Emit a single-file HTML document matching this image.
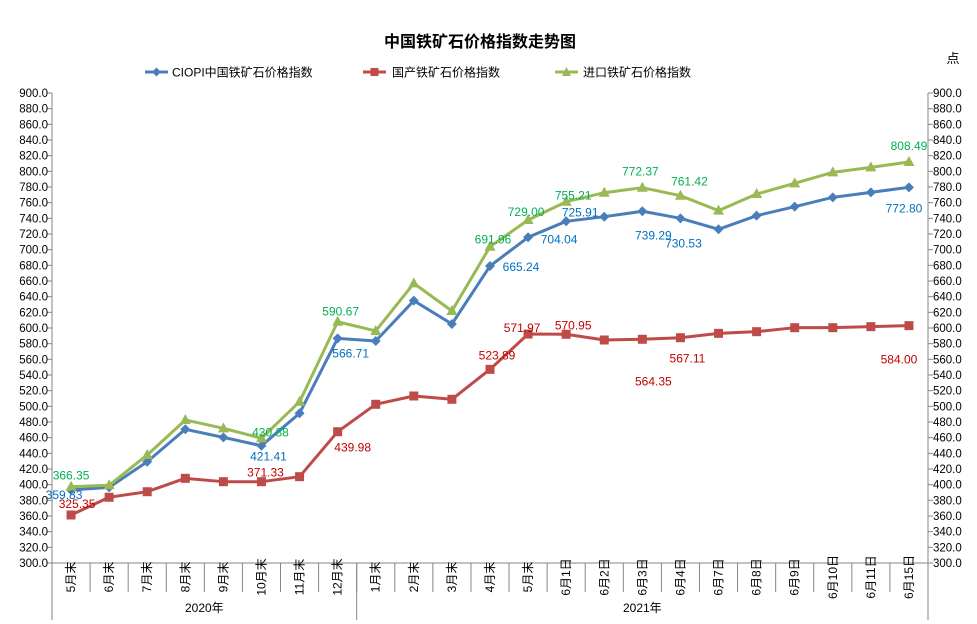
<!DOCTYPE html>
<html><head><meta charset="utf-8"><style>
body{margin:0;background:#fff;}
svg{display:block;font-family:"Liberation Sans","Noto Sans CJK SC",sans-serif;}
</style></head><body>
<svg id="chart" width="977" height="624" viewBox="0 0 977 624">
<text x="480" y="47" text-anchor="middle" font-size="16" font-weight="bold">中国铁矿石价格指数走势图</text>
<text x="953" y="63" text-anchor="middle" font-size="13">点</text>
<g>
<g><line x1="145" y1="72" x2="168" y2="72" stroke="#4a7ebb" stroke-width="3"/><path d="M156.5 67.5 L161 72 L156.5 76.5 L152 72Z" fill="#4a7ebb"/><text x="172" y="76.5" font-size="12">CIOPI中国铁矿石价格指数</text></g>
<g><line x1="363" y1="72" x2="386" y2="72" stroke="#be4b48" stroke-width="3"/><rect x="370.5" y="68" width="8" height="8" fill="#be4b48"/><text x="392" y="76.5" font-size="12">国产铁矿石价格指数</text></g>
<g><line x1="555" y1="72" x2="578" y2="72" stroke="#98b954" stroke-width="3"/><path d="M566.5 67 L571 76 L562 76Z" fill="#98b954"/><text x="583" y="76.5" font-size="12">进口铁矿石价格指数</text></g>
</g>
<g id="axes"></g><g id="series"></g><g id="labels"></g>
</svg>
<script>
const categories=["5月末","6月末","7月末","8月末","9月末","10月末","11月末","12月末","1月末","2月末","3月末","4月末","5月末","6月1日","6月2日","6月3日","6月4日","6月7日","6月8日","6月9日","6月10日","6月11日","6月15日"];
const yearLabels=["2020年","2021年"];
const yearCounts=[8,15];
const ciopi=[393.2,396.6,429.3,470.7,460.4,449.7,491.1,586.8,583.4,634.9,605.1,679.1,715.8,736.2,742.1,749,740,726,743.4,754.9,766.8,773.2,779.6];
const domestic=[361.3,383.9,391,408.1,403.8,403.8,410.2,467.6,502.6,513.2,509,547.2,592.3,592,584.7,585.6,587.6,593.2,595.3,600.4,600.4,601.7,603];
const imported=[397.4,399.2,437.9,482.6,471.9,459.2,505.9,608,596.2,657,621.7,703.8,737.9,761.2,772.7,779.1,768.9,749.8,771,784.7,798.7,805.1,811.9];
const labelIdx=[0,5,7,11,12,13,15,16,22];
const ciopiText=["359.83","421.41","566.71","665.24","704.04","725.91","739.29","730.53","772.80"];
const domesticText=["325.35","371.33","439.98","523.89","571.97","570.95","564.35","567.11","584.00"];
const importText=["366.35","430.88","590.67","691.96","729.00","755.21","772.37","761.42","808.49"];
const yTicks=[300,320,340,360,380,400,420,440,460,480,500,520,540,560,580,600,620,640,660,680,700,720,740,760,780,800,820,840,860,880,900];
// label offsets (styling)
const offC=[[-7,5],[7,11],[13,15],[31,1],[31,2],[14,-9],[11,24],[3,25],[-5,21]];
const offD=[[6,-11],[4,-9],[15,16],[7,-14],[-6,-6],[7,-9],[11,42],[7,21],[-10,34]];
const offI=[[0,-11],[9,-6],[3,-10],[3,-7],[-2,-8],[7,-6],[-2,-16],[9,-14],[0,-16]];

const NS="http://www.w3.org/2000/svg";
const L=52,R=928,T=93,B=563,yMin=300,yMax=900;
const bw=(R-L)/categories.length;
const X=i=>L+bw*(i+0.5);
const Y=v=>B-(v-yMin)/(yMax-yMin)*(B-T);
function mk(tag,attrs,parent){const e=document.createElementNS(NS,tag);for(const k in attrs)e.setAttribute(k,attrs[k]);parent.appendChild(e);return e;}
const ax=document.getElementById('axes');
let a=mk('line',{x1:L,y1:T,x2:L,y2:B,stroke:'#868686'},ax);


a=mk('line',{x1:R,y1:T,x2:R,y2:B,stroke:'#868686'},ax);


a=mk('line',{x1:L,y1:B,x2:R,y2:B,stroke:'#868686'},ax);


yTicks.forEach(v=>{
  const y=Y(v);
  mk('line',{x1:L-5,y1:y,x2:L,y2:y,stroke:'#868686'},ax);
  mk('line',{x1:R,y1:y,x2:R+5,y2:y,stroke:'#868686'},ax);
  let t=mk('text',{x:L-4,y:y+4,'text-anchor':'end','font-size':11.5},ax);t.textContent=v.toFixed(1);
  
  
  t=mk('text',{x:R+5,y:y+4,'font-size':11.5},ax);t.textContent=v.toFixed(1);
  
  
});
categories.forEach((c,i)=>{
  if(i>0)mk('line',{x1:L+bw*i,y1:B,x2:L+bw*i,y2:592,stroke:'#868686'},ax);
  const t=mk('text',{x:0,y:0,'font-size':12,'text-anchor':'middle',transform:`translate(${X(i)+4},${577}) rotate(-90)`},ax);
  t.textContent=c;
  
  
});
let start=0;
[0].concat(yearCounts).reduce((acc,n)=>{mk('line',{x1:L+bw*acc,y1:B,x2:L+bw*acc,y2:620,stroke:'#868686'},ax);return acc+n;},0);
mk('line',{x1:R,y1:B,x2:R,y2:620,stroke:'#868686'},ax);
yearLabels.forEach((yl,k)=>{
  const cx=L+bw*(start+yearCounts[k]/2);
  const t=mk('text',{x:cx,y:612,'font-size':12,'text-anchor':'middle'},ax);t.textContent=yl;
  
  
  start+=yearCounts[k];
});
const sg=document.getElementById('series');
function series(data,color,name,marker){
  const g=mk('g',{},sg);
  
  
  const p=mk('polyline',{points:data.map((v,i)=>X(i)+','+Y(v)).join(' '),fill:'none',stroke:color,'stroke-width':3,'stroke-linejoin':'round'},g);
  
  
  data.forEach((v,i)=>{
    const x=X(i),y=Y(v);let m;
    if(marker==='d')m=mk('path',{d:`M${x} ${y-5}L${x+5} ${y}L${x} ${y+5}L${x-5} ${y}Z`,fill:color},g);
    else if(marker==='s')m=mk('rect',{x:x-4.5,y:y-4.5,width:9,height:9,fill:color},g);
    else m=mk('path',{d:`M${x} ${y-6}L${x+5.5} ${y+4}L${x-5.5} ${y+4}Z`,fill:color},g);
    
    
  });
}
series(domestic,'#be4b48','domestic-series','s');
series(ciopi,'#4a7ebb','ciopi-series','d');
series(imported,'#98b954','import-series','t');
const lg=document.getElementById('labels');
function labels(data,texts,offs,color,name){
  labelIdx.forEach((idx,k)=>{
    const t=mk('text',{x:X(idx)+offs[k][0],y:Y(data[idx])+offs[k][1]+4,'text-anchor':'middle','font-size':12,fill:color},lg);
    t.textContent=texts[k];
    
    
  });
}
labels(ciopi,ciopiText,offC,'#0070c0','ciopi-value-label');
labels(domestic,domesticText,offD,'#c00000','domestic-value-label');
labels(imported,importText,offI,'#00b050','import-value-label');
</script>
</body></html>
